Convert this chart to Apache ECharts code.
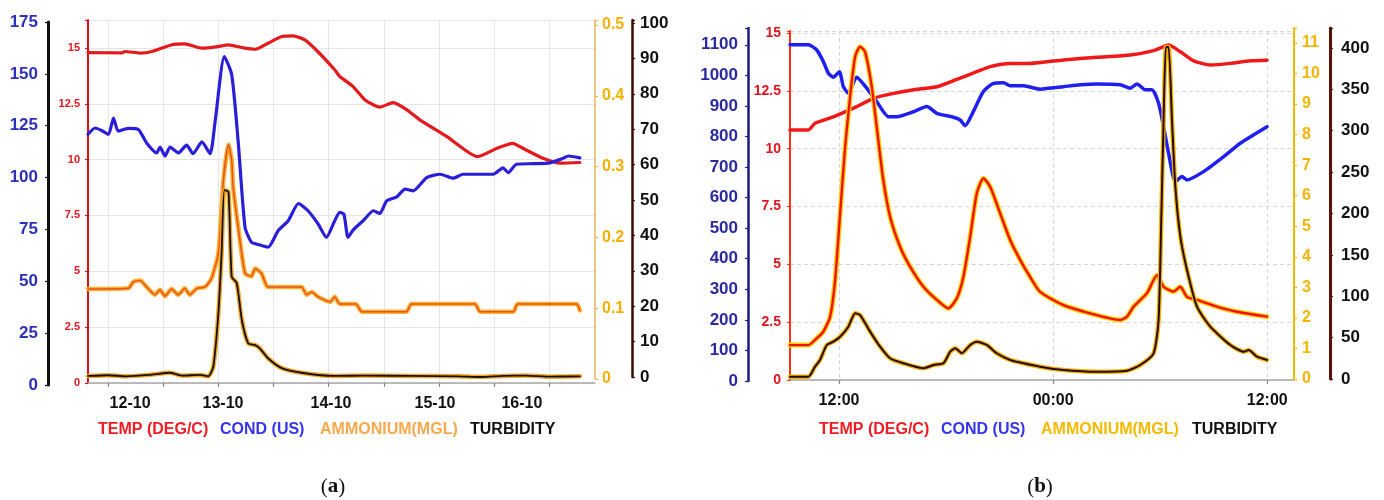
<!DOCTYPE html>
<html><head><meta charset="utf-8">
<script src="https://cdn.jsdelivr.net/npm/echarts@6/dist/echarts.min.js"></script>
<style>html,body{margin:0;padding:0;background:#fff}#c{width:1384px;height:500px}</style>
</head><body><div id="c"></div>
<script>
// ---------- Panel (a): x = hours ----------
const xGridA = [24, 36, 48, 60, 72, 84, 96, 108, 120];
const xLabelPosA = [28.8, 49.0, 72.5, 95.1, 114.0];
const xLabelsA = ['12-10', '13-10', '14-10', '15-10', '16-10'];

const tempA = [[19.65,14.79],[27.0,14.78],[27.7,14.84],[31.0,14.77],[33.6,14.84],[37.9,15.14],[40.7,15.18],[44.4,14.99],[47.9,15.06],[50.1,15.14],[53.8,14.99],[56.0,14.94],[58.8,15.21],[61.8,15.51],[64.2,15.54],[66.8,15.36],[69.6,14.84],[73.3,14.02],[74.4,13.72],[77.3,13.27],[79.9,12.67],[83.1,12.35],[86.0,12.55],[89.0,12.23],[91.8,11.78],[97.7,11.03],[104.4,10.13],[108.6,10.51],[112.0,10.73],[114.2,10.51],[118.6,10.06],[122.3,9.84],[126.6,9.87]];

const condA = [[19.65,120.9],[21.2,123.9],[22.6,122.7],[24.1,120.8],[25.2,128.7],[26.2,122.4],[28.4,123.7],[30.6,123.2],[32.4,116.7],[34.6,111.9],[35.3,114.7],[36.4,110.4],[37.5,114.7],[39.3,111.9],[41.1,115.6],[42.5,111.5],[44.4,117.2],[46.2,111.5],[47.3,127.2],[49.3,158.3],[50.9,149.6],[52.3,117.6],[53.8,76.0],[55.2,68.8],[56.7,67.7],[58.8,66.4],[61.0,74.4],[63.2,79.2],[65.4,87.5],[67.5,84.0],[69.7,77.6],[71.5,71.2],[73.3,79.2],[74.4,83.2],[75.3,82.4],[76.2,71.2],[77.3,74.7],[79.5,79.2],[81.7,84.0],[83.1,82.7],[84.6,88.8],[86.8,90.7],[88.6,94.4],[90.4,93.6],[93.3,100.0],[96.2,101.6],[99.1,99.7],[101.2,101.6],[104.2,101.6],[107.8,101.6],[109.9,104.7],[111.0,102.4],[112.8,106.4],[116.5,106.7],[120.1,107.1],[123.0,109.3],[124.1,110.4],[126.6,109.5]];

const ammA = [[19.65,0.127],[28.4,0.128],[29.5,0.137],[31.0,0.139],[32.4,0.130],[34.2,0.119],[35.3,0.126],[36.4,0.117],[37.8,0.127],[39.3,0.119],[40.7,0.128],[41.8,0.119],[43.3,0.128],[45.1,0.130],[46.5,0.142],[48.0,0.178],[49.1,0.281],[50.2,0.331],[50.9,0.309],[51.2,0.272],[52.3,0.215],[53.8,0.149],[55.2,0.145],[56.0,0.156],[57.4,0.149],[58.8,0.130],[66.1,0.130],[67.2,0.119],[68.3,0.123],[69.7,0.116],[72.3,0.109],[73.3,0.116],[74.4,0.106],[77.9,0.106],[79.2,0.095],[88.9,0.095],[90.0,0.106],[103.8,0.106],[104.9,0.095],[112.1,0.095],[113.1,0.106],[125.9,0.106],[126.6,0.097]];

const turbA = [[19.65,0.3],[24,0.5],[28,0.2],[33,0.6],[37.5,1.2],[40,0.4],[44,0.6],[45.8,0.2],[46.9,2.9],[48.0,18.0],[48.7,34.9],[49.3,52.8],[50.2,52.3],[50.9,28.3],[52.0,26.5],[53.1,16.1],[54.5,9.5],[56.0,9.0],[57.0,8.1],[58.8,5.3],[61.8,2.5],[66.1,1.2],[73.3,0.3],[80,0.4],[90,0.3],[100,0.2],[105,0.0],[110,0.3],[115,0.4],[120,0.1],[126.6,0.2]];

// ---------- Panel (b): x = hours ----------
const xGridB = [12, 24, 36];
const xLabelsB = ['12:00', '00:00', '12:00'];

const tempB = [[9.25,10.81],[10.28,10.81],[10.65,11.10],[11.68,11.38],[12.99,11.82],[13.92,12.18],[14.86,12.36],[16.36,12.57],[17.48,12.68],[18.60,13.00],[19.72,13.33],[20.47,13.55],[21.59,13.69],[22.71,13.69],[24.58,13.84],[26.45,13.95],[28.32,14.05],[29.63,14.24],[30.48,14.48],[31.13,14.19],[31.88,13.80],[32.81,13.62],[33.93,13.69],[35.05,13.80],[35.99,13.83]];

const condB = [[9.25,1100],[10.28,1100],[10.75,1083],[11.12,1045],[11.40,1007],[11.68,994],[12.02,1012],[12.24,963],[12.52,942],[12.99,994],[13.55,958],[14.11,914],[14.76,865],[15.24,865],[16.17,881],[16.92,898],[17.48,876],[18.41,863],[18.79,854],[19.07,835],[19.44,871],[20.09,947],[20.66,974],[21.22,976],[21.59,966],[22.34,966],[23.27,955],[24.58,963],[25.52,969],[26.45,972],[27.76,969],[28.32,958],[28.70,972],[29.16,953],[29.54,953],[29.91,909],[30.19,832],[30.47,745],[30.85,652],[31.22,669],[31.50,658],[32.43,685],[33.56,734],[34.49,778],[35.99,832]];

const ammB = [[9.25,1.11],[10.28,1.11],[10.75,1.33],[11.12,1.55],[11.50,2.04],[11.78,3.24],[12.06,5.42],[12.34,7.60],[12.62,9.24],[12.90,10.55],[13.18,10.88],[13.46,10.71],[13.83,9.57],[14.20,7.82],[14.48,6.51],[14.86,5.31],[15.42,4.33],[15.98,3.68],[16.73,3.02],[17.48,2.59],[18.13,2.31],[18.60,2.64],[18.97,3.35],[19.35,4.66],[19.72,6.08],[20.09,6.57],[20.47,6.29],[21.03,5.42],[21.59,4.55],[22.15,3.90],[22.71,3.34],[23.27,2.85],[24.58,2.42],[26.45,2.09],[27.76,1.93],[28.14,2.04],[28.51,2.37],[29.26,2.81],[29.82,3.40],[30.19,3.02],[30.75,2.86],[31.13,3.02],[31.50,2.69],[32.06,2.59],[33.18,2.37],[34.30,2.20],[35.99,2.04]];

const turbB = [[9.25,2.8],[10.28,2.8],[10.65,14.9],[10.93,23.0],[11.31,41.1],[11.68,45.1],[12.06,51.1],[12.52,63.2],[12.90,79.4],[13.18,77.3],[13.74,57.2],[14.30,39.0],[14.86,25.0],[15.61,19.0],[16.73,12.9],[17.29,16.9],[17.85,19.0],[18.23,33.0],[18.51,37.1],[18.88,31.1],[19.35,41.1],[19.72,45.1],[20.28,41.1],[20.84,31.1],[21.59,23.0],[22.34,19.0],[23.27,14.9],[24.58,10.9],[26.45,8.8],[28.14,10.0],[28.88,16.9],[29.63,31.1],[29.91,71.3],[30.06,192],[30.19,313],[30.32,401],[30.47,401],[30.66,313],[30.85,232],[31.13,172],[31.50,132],[32.06,87.4],[32.81,63.2],[33.93,41.1],[34.68,33.0],[34.96,35.0],[35.43,26.9],[35.99,23.0]];

// ---------- build ----------
const F = '"Liberation Sans", Arial, sans-serif';
const num = v => String(parseFloat(v.toFixed(4)));

function yAx(o) {
  return {
    type: 'value', gridIndex: o.g, position: o.pos, offset: o.off || 0,
    min: 0, max: o.max, interval: o.iv,
    axisLine: { show: true, onZero: false, lineStyle: { color: o.lc, width: o.lw } },
    axisTick: { show: true, length: 3, lineStyle: { color: o.tc || o.lc, width: 1.2 } },
    axisLabel: {
      color: o.tx, fontFamily: F, fontWeight: 'bold', fontSize: o.fs, margin: o.m,
      formatter: v => { const k = v / o.iv; return Math.abs(k - Math.round(k)) < 1e-6 ? num(v) : ''; }
    },
    splitLine: o.split ? { show: true, lineStyle: o.split } : { show: false }
  };
}
function xAx(g, min, max, vis, ticks, labPos, labs, gstyle) {
  if (!vis) return { type: 'value', gridIndex: g, min, max, show: false };
  return {
    type: 'value', gridIndex: g, min, max,
    axisLine: { show: true, onZero: false, lineStyle: { color: '#a8a8a8', width: 1.5 } },
    axisTick: { show: true, customValues: ticks, length: 4, lineStyle: { color: '#888', width: 1.2 } },
    axisLabel: {
      show: true, customValues: labPos, color: '#111', fontFamily: F, fontWeight: 'bold', fontSize: 16, margin: 13,
      formatter: v => { const i = labPos.findIndex(p => Math.abs(p - v) < 1e-6); return i >= 0 ? labs[i] : ''; }
    },
    splitLine: { show: true, lineStyle: gstyle }
  };
}
function grid(left, right, top, bottom) {
  return { left, right, top, bottom, containLabel: false, outerBoundsMode: 'none' };
}
function ln(data, i, color, width, z) {
  return { type: 'line', data, xAxisIndex: i, yAxisIndex: i, symbol: 'none', showSymbol: false,
    smooth: 0.2, lineStyle: { color, width, cap: 'round', join: 'round' }, z, silent: true, animation: false };
}
function lg(text, left, color) {
  return { text, left, top: 422, padding: 0, textStyle: { color, fontFamily: F, fontWeight: 'bold', fontSize: 16, lineHeight: 16 } };
}
function cap(letter, x) {
  return { type: 'text', x, y: 487, style: { text: '({a|' + letter + '})', align: 'center', verticalAlign: 'middle', fill: '#111',
    font: '21px "Liberation Serif", serif', rich: { a: { fontFamily: '"Liberation Serif", serif', fontWeight: 'bold', fontSize: 21, fill: '#111' } } } };
}

const gA = { color: '#e6e6e6', width: 1 };
const gB = { color: '#d6d6d6', width: 1, type: [4, 3] };

const option = {
  animation: false,
  backgroundColor: '#fff',
  grid: [
    grid(88, 789, 20, 117), grid(88, 789, 22, 115), grid(88, 789, 20, 121), grid(88, 789, 20, 123),
    grid(790, 90, 31, 120), grid(790, 90, 28, 119), grid(790, 90, 28, 121), grid(790, 90, 28, 121)
  ],
  xAxis: [
    xAx(0, 19.65, 129.9, true, xGridA, xLabelPosA, xLabelsA, gA),
    xAx(1, 19.65, 129.9, false), xAx(2, 19.65, 129.9, false), xAx(3, 19.65, 129.9, false),
    xAx(4, 9.25, 37.5, true, xGridB, xGridB, xLabelsB, gB),
    xAx(5, 9.25, 37.5, false), xAx(6, 9.25, 37.5, false), xAx(7, 9.25, 37.5, false)
  ],
  yAxis: [
    yAx({ g: 0, pos: 'left', max: 16.25, iv: 2.5, lc: '#d8101c', lw: 2, tx: '#e0141e', fs: 11, m: 8, split: gA }),
    yAx({ g: 1, pos: 'left', off: 40, max: 175, iv: 25, lc: '#111', lw: 3, tx: '#2b30b8', fs: 17, m: 10 }),
    yAx({ g: 2, pos: 'right', max: 0.507, iv: 0.1, lc: '#e6b65c', lw: 1.5, tx: '#f5b000', fs: 16, m: 7 }),
    yAx({ g: 3, pos: 'right', off: 37, max: 100.85, iv: 10, lc: '#3b0d00', lw: 2.5, tx: '#111', fs: 17, m: 8 }),
    yAx({ g: 4, pos: 'left', max: 15.09, iv: 2.5, lc: '#ff3414', lw: 2, tx: '#e0141e', fs: 14, m: 9, split: gB }),
    yAx({ g: 5, pos: 'left', off: 42, max: 1155, iv: 100, lc: '#1a1a80', lw: 2.5, tx: '#2a2a9e', fs: 17, m: 10 }),
    yAx({ g: 6, pos: 'right', max: 11.49, iv: 1, lc: '#f5b800', lw: 2, tx: '#f5b400', fs: 16, m: 8 }),
    yAx({ g: 7, pos: 'right', off: 36, max: 424, iv: 50, lc: '#5a1206', lw: 3, tx: '#111', fs: 17, m: 11 })
  ],
  series: [
    // panel a
    ln(ammA, 2, '#f9b233', 4.5, 2), ln(ammA, 2, '#e8521a', 1.5, 3),
    ln(turbA, 3, '#f5a623', 4.5, 4), ln(turbA, 3, '#111', 1.8, 5),
    ln(tempA, 0, '#e31a1c', 3.2, 6),
    ln(condA, 1, '#2a1fd9', 3.2, 7),
    // panel b
    ln(tempB, 4, '#f01818', 3.5, 2),
    ln(condB, 5, '#1f1ff0', 3.5, 3),
    ln(ammB, 6, '#ffd000', 5, 4), ln(ammB, 6, '#f01010', 2.4, 5),
    ln(turbB, 7, '#f0b400', 4.5, 6), ln(turbB, 7, '#2a0800', 2, 7)
  ],
  title: [
    lg('TEMP (DEG/C)', 98, '#ee1d23'), lg('COND (US)', 220, '#3535ee'), lg('AMMONIUM(MGL)', 320, '#f9a94b'), lg('TURBIDITY', 470, '#111'),
    lg('TEMP (DEG/C)', 819, '#ee1d23'), lg('COND (US)', 941, '#3535ee'), lg('AMMONIUM(MGL)', 1041, '#f7b900'), lg('TURBIDITY', 1192, '#111')
  ],
  graphic: [cap('a', 333), cap('b', 1040)]
};
const chart = echarts.init(document.getElementById('c'));
chart.setOption(option);
</script></body></html>
